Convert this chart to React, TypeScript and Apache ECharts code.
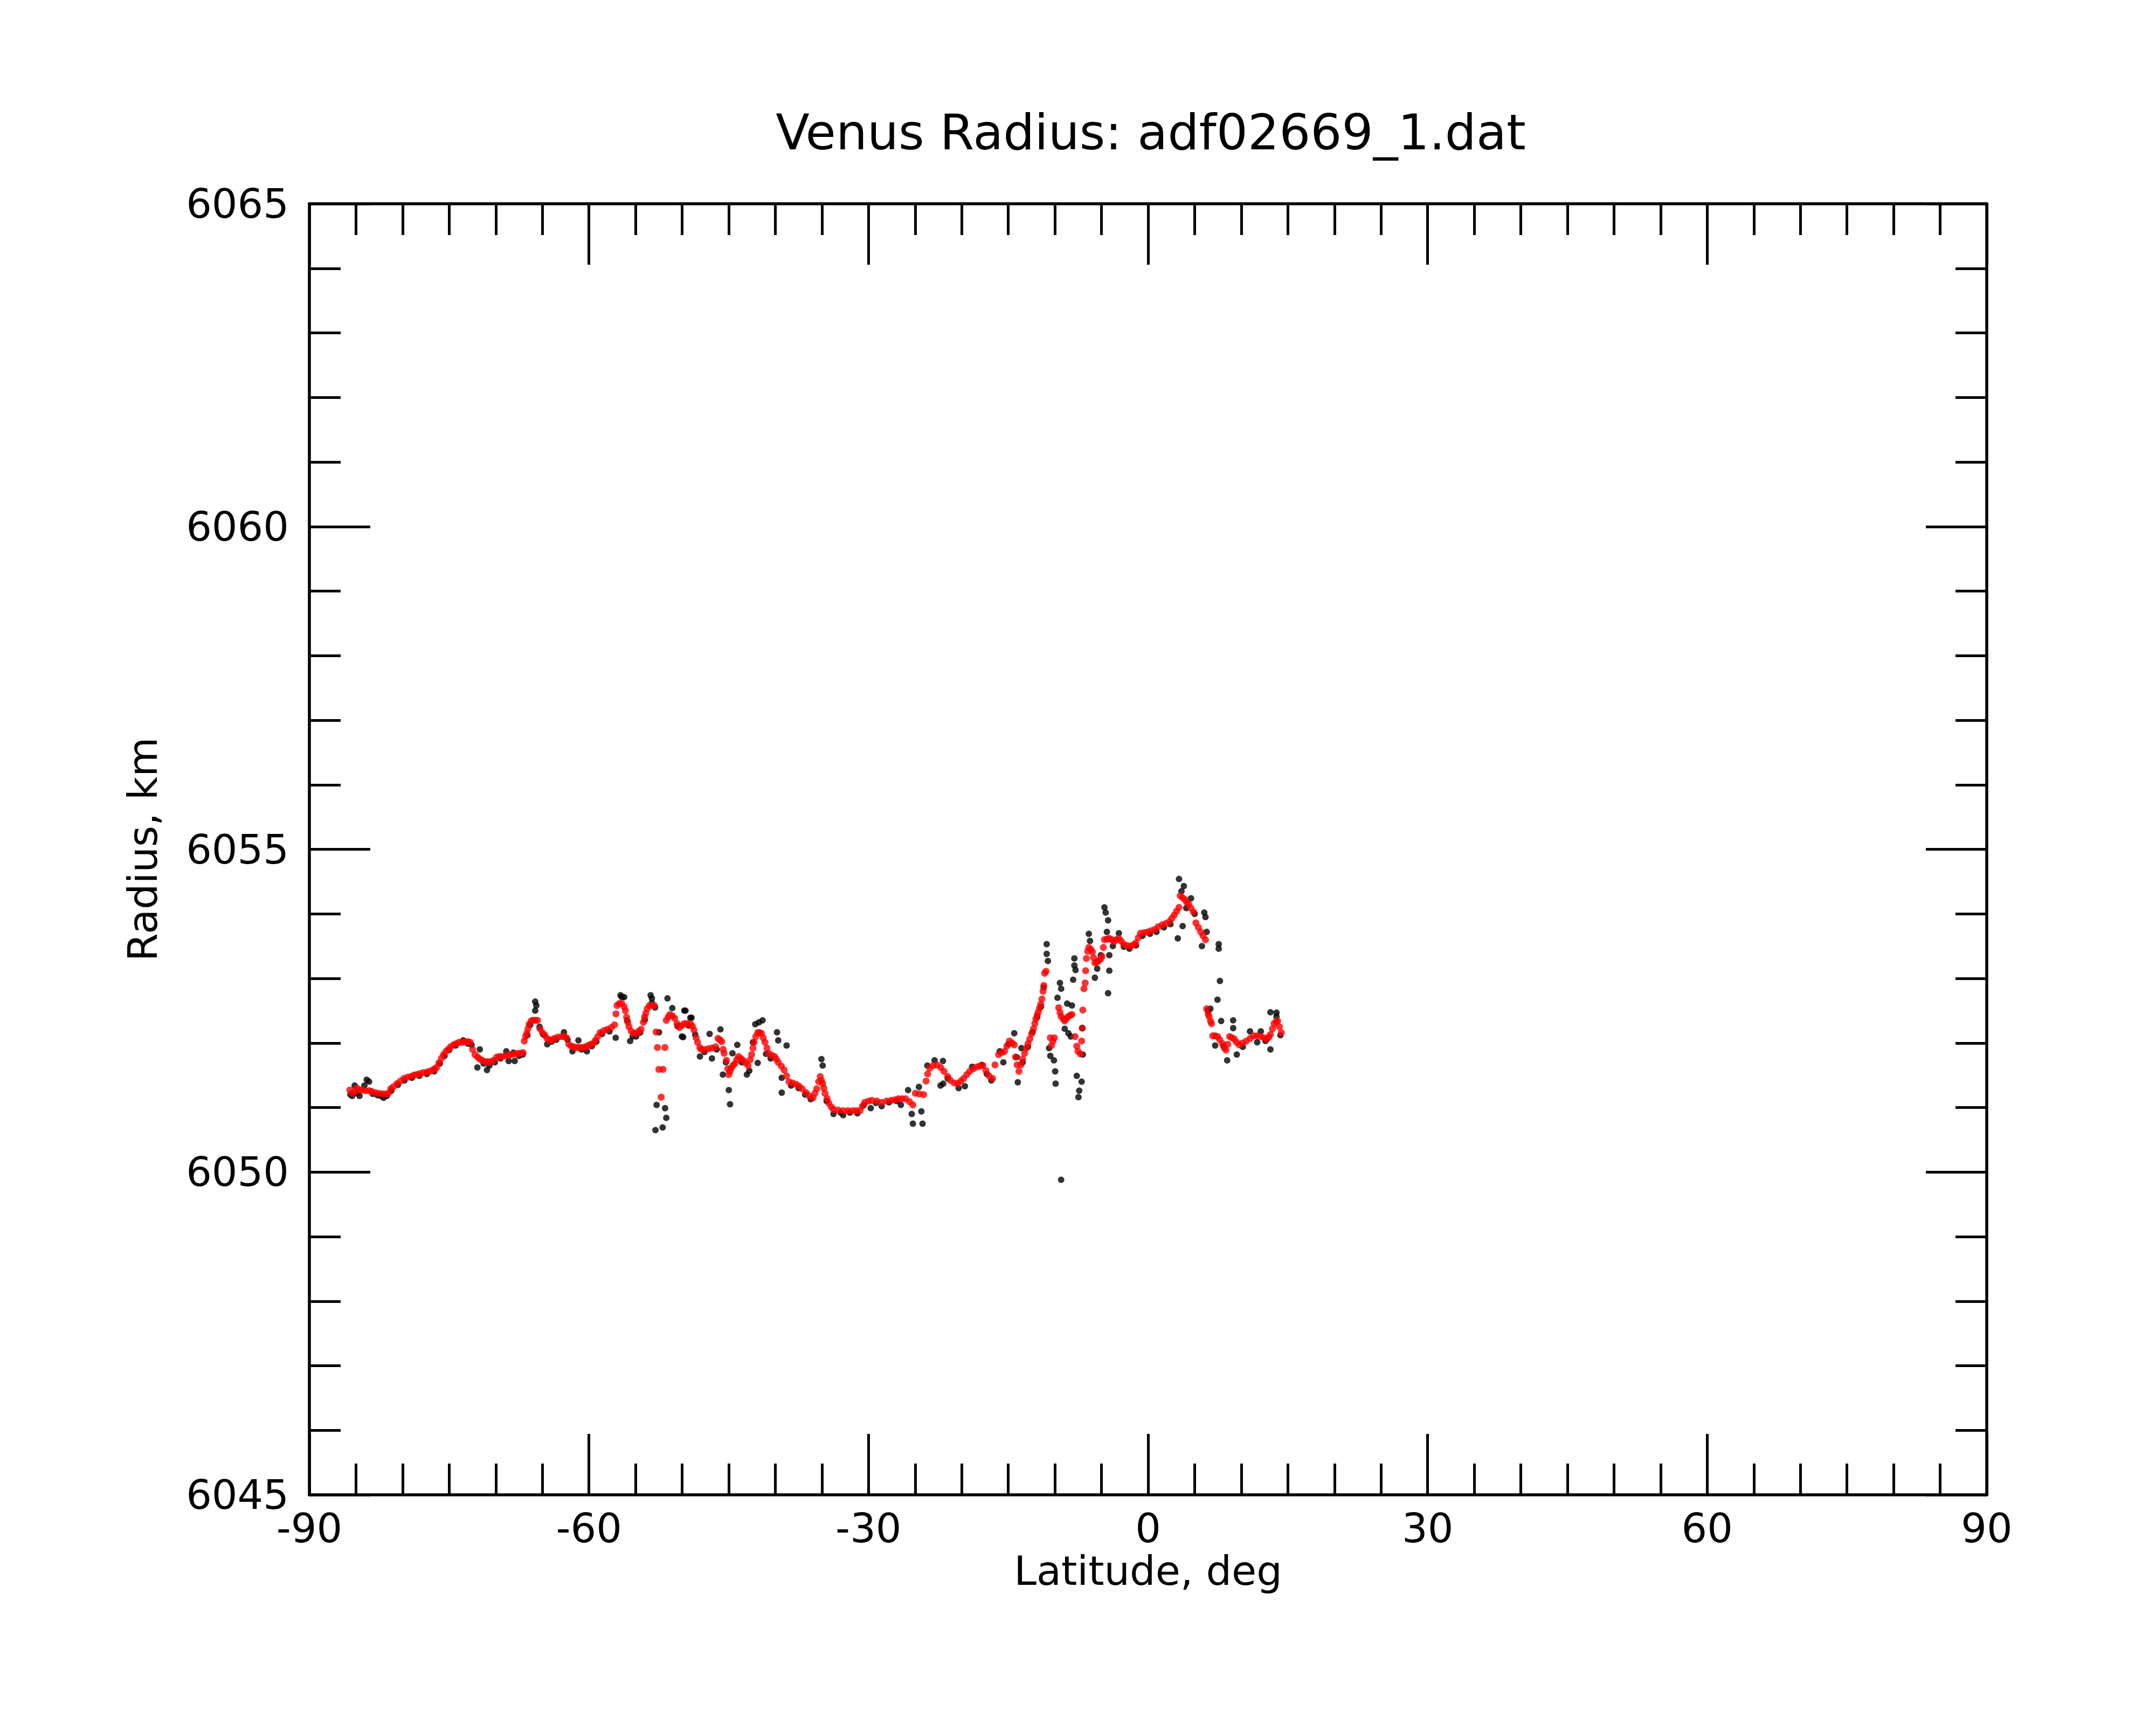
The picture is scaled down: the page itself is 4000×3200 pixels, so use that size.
import React, { useEffect, useRef } from "react";
import * as echarts from "echarts";

const chartTitle = "Venus Radius: adf02669_1.dat";
const xAxisTitle = "Latitude, deg";
const yAxisTitle = "Radius, km";
const latRange = [-90, 90];
const latStep = 30;
const radiusRange = [6045, 6065];
const radiusStep = 5;

// smoothed profile (red)
const smoothed: [number, number][] = [
  [-85.66, 6051.27], [-85.4, 6051.22], [-85.1, 6051.25], [-84.88, 6051.3], [-84.6, 6051.27],
  [-84.37, 6051.27], [-84.0, 6051.26], [-83.6, 6051.26], [-83.33, 6051.25], [-82.95, 6051.23],
  [-82.56, 6051.22], [-82.2, 6051.21], [-81.85, 6051.21], [-81.52, 6051.22], [-81.27, 6051.29],
  [-81.0, 6051.32], [-80.6, 6051.37], [-80.23, 6051.41], [-79.85, 6051.45], [-79.46, 6051.47],
  [-79.1, 6051.48], [-78.8, 6051.5], [-78.5, 6051.51], [-78.17, 6051.525], [-77.8, 6051.54],
  [-77.39, 6051.55], [-77.1, 6051.56], [-76.8, 6051.58], [-76.55, 6051.6], [-76.36, 6051.62],
  [-76.1, 6051.69], [-75.84, 6051.76], [-75.6, 6051.82], [-75.33, 6051.87], [-75.1, 6051.9],
  [-74.85, 6051.94], [-74.55, 6051.97], [-74.25, 6051.99], [-73.95, 6052.01], [-73.6, 6052.01],
  [-73.3, 6052.02], [-73.0, 6052.02], [-72.75, 6052.01], [-72.49, 6051.9], [-72.23, 6051.82],
  [-71.95, 6051.78], [-71.7, 6051.75], [-71.46, 6051.73], [-71.15, 6051.71], [-70.85, 6051.71],
  [-70.55, 6051.71], [-70.25, 6051.73], [-69.91, 6051.78], [-69.6, 6051.79], [-69.3, 6051.79],
  [-68.95, 6051.8], [-68.6, 6051.81], [-68.3, 6051.82], [-67.95, 6051.83], [-67.6, 6051.84],
  [-67.3, 6051.84], [-67.07, 6051.85], [-66.94, 6052.03], [-66.8, 6052.1], [-66.68, 6052.15],
  [-66.55, 6052.22], [-66.42, 6052.29], [-66.2, 6052.34], [-66.03, 6052.35], [-65.78, 6052.35],
  [-65.52, 6052.35], [-65.26, 6052.22], [-65.0, 6052.16], [-64.74, 6052.12], [-64.5, 6052.07],
  [-64.23, 6052.04], [-63.95, 6052.05], [-63.71, 6052.07], [-63.35, 6052.09], [-62.93, 6052.1],
  [-62.65, 6052.1], [-62.42, 6052.08], [-62.16, 6051.98], [-61.9, 6051.95], [-61.64, 6051.94],
  [-61.35, 6051.93], [-61.1, 6051.93], [-60.85, 6051.93], [-60.61, 6051.93], [-60.35, 6051.94],
  [-60.09, 6051.96], [-59.8, 6051.98], [-59.55, 6051.99], [-59.32, 6052.04], [-59.05, 6052.1],
  [-58.8, 6052.16], [-58.4, 6052.19], [-58.03, 6052.21], [-57.6, 6052.24], [-57.25, 6052.28],
  [-57.1, 6052.45], [-56.99, 6052.58], [-56.75, 6052.61], [-56.48, 6052.61], [-56.22, 6052.56],
  [-56.09, 6052.5], [-55.96, 6052.4], [-55.83, 6052.32], [-55.7, 6052.25], [-55.45, 6052.18],
  [-55.19, 6052.15], [-54.93, 6052.15], [-54.67, 6052.18], [-54.41, 6052.21], [-54.16, 6052.32],
  [-54.03, 6052.4], [-53.9, 6052.46], [-53.75, 6052.53], [-53.51, 6052.58], [-53.25, 6052.58],
  [-52.99, 6052.58], [-52.8, 6052.17], [-52.65, 6051.93], [-52.5, 6051.59], [-52.25, 6051.16],
  [-52.05, 6051.59], [-51.85, 6051.93], [-51.7, 6052.35], [-51.5, 6052.4], [-51.32, 6052.44],
  [-51.05, 6052.42], [-50.8, 6052.38], [-50.55, 6052.3], [-50.28, 6052.24], [-50.0, 6052.27],
  [-49.77, 6052.3], [-49.45, 6052.3], [-49.12, 6052.3], [-48.9, 6052.26], [-48.73, 6052.2],
  [-48.5, 6052.08], [-48.34, 6052.01], [-48.1, 6051.93], [-47.96, 6051.9], [-47.6, 6051.9],
  [-47.18, 6051.91], [-46.8, 6051.92], [-46.41, 6051.94], [-46.15, 6052.07], [-45.95, 6052.05],
  [-45.76, 6052.02], [-45.6, 6051.9], [-45.5, 6051.84], [-45.25, 6051.73], [-45.1, 6051.6],
  [-44.99, 6051.51], [-44.86, 6051.56], [-44.73, 6051.61], [-44.55, 6051.65], [-44.34, 6051.68],
  [-44.15, 6051.74], [-43.95, 6051.79], [-43.7, 6051.76], [-43.44, 6051.73], [-43.2, 6051.69],
  [-42.92, 6051.65], [-42.7, 6051.74], [-42.54, 6051.82], [-42.4, 6051.92], [-42.28, 6052.01],
  [-42.1, 6052.1], [-41.89, 6052.16], [-41.7, 6052.16], [-41.5, 6052.15], [-41.3, 6052.08],
  [-41.11, 6052.01], [-40.9, 6051.92], [-40.73, 6051.84], [-40.4, 6051.81], [-40.08, 6051.79],
  [-39.9, 6051.75], [-39.69, 6051.7], [-39.35, 6051.64], [-39.05, 6051.58], [-38.8, 6051.49],
  [-38.53, 6051.4], [-38.15, 6051.38], [-37.76, 6051.36], [-37.45, 6051.33], [-37.11, 6051.29],
  [-36.7, 6051.23], [-36.34, 6051.18], [-35.95, 6051.15], [-35.75, 6051.22], [-35.56, 6051.29],
  [-35.35, 6051.4], [-35.18, 6051.48], [-35.05, 6051.42], [-34.92, 6051.37], [-34.8, 6051.3],
  [-34.66, 6051.22], [-34.45, 6051.14], [-34.27, 6051.07], [-34.0, 6051.01], [-33.76, 6050.97],
  [-33.25, 6050.96], [-32.72, 6050.95], [-32.2, 6050.95], [-31.69, 6050.95], [-31.3, 6050.95],
  [-30.92, 6050.95], [-30.65, 6051.02], [-30.4, 6051.08], [-30.0, 6051.1], [-29.63, 6051.11],
  [-29.1, 6051.1], [-28.59, 6051.08], [-28.05, 6051.1], [-27.56, 6051.11], [-27.15, 6051.12],
  [-26.78, 6051.135], [-26.4, 6051.135], [-26.01, 6051.135], [-25.6, 6051.09], [-25.24, 6051.04],
  [-24.98, 6051.22], [-24.55, 6051.21], [-24.08, 6051.2], [-23.82, 6051.41], [-23.65, 6051.52],
  [-23.43, 6051.61], [-23.05, 6051.65], [-22.65, 6051.66], [-22.25, 6051.62], [-21.9, 6051.56],
  [-21.5, 6051.48], [-21.21, 6051.42], [-20.8, 6051.38], [-20.43, 6051.37], [-20.1, 6051.41],
  [-19.79, 6051.45], [-19.45, 6051.51], [-19.14, 6051.56], [-18.75, 6051.6], [-18.37, 6051.63],
  [-18.05, 6051.64], [-17.72, 6051.65], [-17.4, 6051.57], [-17.07, 6051.49], [-16.69, 6051.45],
  [-16.43, 6051.66], [-16.04, 6051.82], [-15.7, 6051.85], [-15.4, 6051.87], [-15.15, 6051.95],
  [-14.88, 6052.03], [-14.6, 6052.0], [-14.36, 6051.97], [-14.23, 6051.78], [-14.05, 6051.66],
  [-13.85, 6051.56], [-13.65, 6051.66], [-13.46, 6051.75], [-13.25, 6051.84], [-13.07, 6051.92],
  [-12.88, 6051.99], [-12.69, 6052.06], [-12.5, 6052.14], [-12.3, 6052.22], [-12.15, 6052.3],
  [-12.04, 6052.37], [-11.9, 6052.43], [-11.78, 6052.48], [-11.65, 6052.54], [-11.52, 6052.6],
  [-11.39, 6052.68], [-11.27, 6052.8], [-11.19, 6052.89], [-11.1, 6053.08], [-10.95, 6053.11],
  [-10.49, 6052.08], [-10.36, 6051.96], [-10.2, 6052.03], [-10.05, 6052.08], [-9.59, 6052.545],
  [-9.45, 6052.47], [-9.33, 6052.41], [-9.1, 6052.37], [-8.94, 6052.34], [-8.75, 6052.38],
  [-8.55, 6052.41], [-8.35, 6052.43], [-8.17, 6052.44], [-7.83, 6052.1], [-7.65, 6051.95],
  [-7.52, 6051.87], [-7.26, 6051.83], [-7.13, 6052.03], [-7.06, 6052.23], [-7.0, 6052.51],
  [-6.88, 6052.84], [-6.75, 6052.93], [-6.7, 6053.12], [-6.62, 6053.31], [-6.48, 6053.42],
  [-6.36, 6053.48], [-6.15, 6053.45], [-5.97, 6053.41], [-5.85, 6053.32], [-5.71, 6053.24],
  [-5.5, 6053.25], [-5.33, 6053.27], [-5.1, 6053.3], [-4.94, 6053.34], [-4.8, 6053.48],
  [-4.68, 6053.6], [-4.4, 6053.61], [-4.16, 6053.62], [-3.9, 6053.6], [-3.65, 6053.57],
  [-3.4, 6053.6], [-3.13, 6053.62], [-2.9, 6053.58], [-2.62, 6053.53], [-2.25, 6053.51],
  [-1.84, 6053.5], [-1.55, 6053.52], [-1.32, 6053.55], [-1.05, 6053.63], [-0.81, 6053.7],
  [-0.4, 6053.71], [-0.03, 6053.72], [0.35, 6053.74], [0.74, 6053.76], [1.1, 6053.8],
  [1.52, 6053.83], [1.9, 6053.85], [2.29, 6053.88], [2.55, 6053.93], [2.81, 6053.98],
  [3.05, 6054.04], [3.32, 6054.1], [3.45, 6054.28], [3.7, 6054.25], [3.97, 6054.22],
  [4.15, 6054.18], [4.36, 6054.15], [4.6, 6054.09], [4.87, 6054.03], [5.13, 6053.86],
  [5.4, 6053.79], [5.65, 6053.72], [5.9, 6053.66], [6.16, 6053.6], [6.29, 6052.53],
  [6.45, 6052.45], [6.55, 6052.41], [6.7, 6052.34], [6.81, 6052.3], [6.94, 6052.11],
  [7.2, 6052.11], [7.45, 6052.1], [7.7, 6052.05], [7.97, 6051.99], [8.2, 6051.92],
  [8.36, 6051.89], [8.55, 6051.98], [8.75, 6052.1], [9.0, 6052.08], [9.26, 6052.06],
  [9.5, 6052.01], [9.78, 6051.97], [10.15, 6052.0], [10.55, 6052.03], [10.95, 6052.07],
  [11.33, 6052.11], [11.7, 6052.11], [12.1, 6052.1], [12.45, 6052.08], [12.75, 6052.06],
  [12.95, 6052.09], [13.13, 6052.13], [13.35, 6052.22], [13.52, 6052.3], [13.75, 6052.33],
  [13.91, 6052.34], [14.1, 6052.25], [14.3, 6052.16],
];

// raw measurements (black)
const raw: [number, number][] = [
  [-85.6, 6051.2], [-85.4, 6051.18], [-85.14, 6051.34], [-84.9, 6051.22], [-84.62, 6051.18],
  [-84.1, 6051.34], [-83.85, 6051.43], [-83.59, 6051.4], [-83.2, 6051.21], [-82.7, 6051.19],
  [-82.3, 6051.18], [-82.04, 6051.15], [-81.7, 6051.18], [-81.2, 6051.26], [-80.5, 6051.35],
  [-79.8, 6051.42], [-79.0, 6051.46], [-78.2, 6051.49], [-77.4, 6051.52], [-76.6, 6051.56],
  [-76.0, 6051.68], [-75.5, 6051.8], [-75.0, 6051.89], [-74.3, 6051.96], [-73.5, 6052.04],
  [-73.0, 6051.99], [-72.6, 6051.97], [-71.97, 6051.62], [-71.71, 6051.9], [-71.3, 6051.68],
  [-70.94, 6051.58], [-70.68, 6051.65], [-70.1, 6051.7], [-69.5, 6051.76], [-68.87, 6051.87],
  [-68.61, 6051.72], [-68.1, 6051.85], [-67.97, 6051.72], [-67.5, 6051.8], [-67.1, 6051.82],
  [-66.6, 6052.12], [-66.3, 6052.28], [-65.77, 6052.64], [-65.77, 6052.5], [-65.65, 6052.58],
  [-65.3, 6052.25], [-64.9, 6052.13], [-64.48, 6051.98], [-64.0, 6052.02], [-63.5, 6052.05],
  [-62.68, 6052.165], [-62.3, 6052.05], [-61.77, 6051.87], [-61.13, 6052.04], [-60.8, 6051.9],
  [-60.22, 6051.87], [-59.7, 6051.95], [-59.2, 6052.02], [-58.6, 6052.14], [-57.8, 6052.18],
  [-57.13, 6052.08], [-56.61, 6052.74], [-56.48, 6052.71], [-56.22, 6052.71], [-55.9, 6052.35],
  [-55.58, 6052.03], [-55.3, 6052.1], [-54.93, 6052.1], [-54.5, 6052.16], [-54.0, 6052.36],
  [-53.38, 6052.74], [-53.25, 6052.62], [-53.25, 6052.69], [-52.9, 6052.55], [-52.48, 6052.165],
  [-52.74, 6051.04], [-51.83, 6050.99], [-51.7, 6050.84], [-52.86, 6050.65], [-52.09, 6050.69],
  [-51.57, 6052.69], [-51.06, 6052.54], [-50.5, 6052.26], [-50.03, 6052.1], [-49.89, 6052.09],
  [-49.77, 6052.5], [-49.64, 6052.5], [-49.3, 6052.27], [-49.12, 6052.39], [-48.99, 6052.39],
  [-48.6, 6052.13], [-48.09, 6051.79], [-47.6, 6051.86], [-47.05, 6052.14], [-46.8, 6051.76],
  [-46.3, 6051.9], [-45.89, 6052.21], [-45.63, 6051.51], [-45.3, 6051.7], [-44.99, 6051.27],
  [-44.86, 6051.05], [-44.6, 6051.84], [-44.08, 6051.97], [-43.6, 6051.7], [-43.05, 6051.51],
  [-42.79, 6051.57], [-42.41, 6052.01], [-42.15, 6052.29], [-41.89, 6051.69], [-41.76, 6052.32],
  [-41.37, 6052.35], [-40.99, 6051.83], [-40.5, 6051.76], [-39.82, 6052.165], [-39.69, 6052.04],
  [-39.31, 6051.46], [-39.31, 6051.23], [-38.79, 6051.96], [-38.3, 6051.34], [-37.5, 6051.3],
  [-36.8, 6051.2], [-36.2, 6051.13], [-35.05, 6051.75], [-34.92, 6051.65], [-34.5, 6051.1],
  [-33.76, 6050.9], [-33.0, 6050.92], [-32.72, 6050.88], [-32.0, 6050.92], [-31.2, 6050.91],
  [-30.5, 6051.04], [-29.76, 6050.99], [-29.2, 6051.07], [-28.59, 6051.02], [-27.8, 6051.08],
  [-27.0, 6051.1], [-26.53, 6051.04], [-25.75, 6051.27], [-25.36, 6050.9], [-25.24, 6050.75],
  [-24.59, 6051.32], [-24.33, 6050.94], [-24.2, 6050.75], [-23.69, 6051.65], [-22.91, 6051.73],
  [-22.27, 6051.34], [-22.01, 6051.72], [-21.98, 6051.37], [-21.5, 6051.45], [-20.33, 6051.3],
  [-19.66, 6051.33], [-18.88, 6051.63], [-17.85, 6051.66], [-17.3, 6051.52], [-16.82, 6051.42],
  [-15.91, 6051.87], [-15.53, 6051.7], [-15.0, 6051.98], [-14.36, 6052.15], [-14.1, 6051.78],
  [-13.98, 6051.39], [-13.59, 6051.92], [-13.46, 6051.7], [-12.9, 6051.94], [-12.4, 6052.17],
  [-11.9, 6052.4], [-11.5, 6052.56], [-11.2, 6052.86], [-10.88, 6053.53], [-10.88, 6053.38],
  [-10.75, 6053.27], [-10.62, 6051.92], [-10.49, 6051.8], [-10.1, 6051.73], [-9.97, 6051.56],
  [-9.92, 6051.37], [-9.33, 6049.88], [-9.72, 6052.7], [-9.46, 6052.93], [-9.33, 6052.84],
  [-8.94, 6052.22], [-8.68, 6052.61], [-8.55, 6052.15], [-8.29, 6052.1], [-8.17, 6052.58],
  [-8.04, 6052.98], [-7.91, 6053.31], [-7.91, 6053.2], [-7.78, 6053.13], [-7.65, 6051.49],
  [-7.47, 6051.16], [-7.39, 6051.26], [-7.13, 6051.4], [-7.0, 6051.82], [-7.06, 6052.23],
  [-6.36, 6053.69], [-6.23, 6053.58], [-5.71, 6053.01], [-5.46, 6053.15], [-5.07, 6053.36],
  [-4.68, 6054.1], [-4.55, 6054.02], [-4.42, 6053.72], [-4.29, 6053.9], [-4.29, 6052.77],
  [-4.16, 6053.36], [-4.16, 6053.12], [-3.78, 6053.5], [-3.13, 6053.7], [-2.6, 6053.49],
  [-2.0, 6053.46], [-1.3, 6053.51], [-0.6, 6053.66], [0.2, 6053.69], [0.9, 6053.72],
  [1.7, 6053.79], [2.4, 6053.84], [3.19, 6053.62], [3.32, 6054.54], [3.58, 6054.35],
  [3.71, 6053.81], [3.84, 6054.43], [4.1, 6054.09], [4.61, 6054.24], [5.0, 6054.0],
  [5.78, 6053.5], [6.03, 6054.02], [6.16, 6053.95], [6.29, 6053.72], [6.4, 6052.5],
  [6.68, 6052.53], [7.2, 6051.96], [7.45, 6052.67], [7.58, 6053.53], [7.58, 6053.46],
  [7.71, 6052.96], [7.84, 6052.34], [8.1, 6051.95], [8.49, 6051.73], [9.13, 6052.35],
  [9.13, 6052.23], [9.52, 6051.82], [10.16, 6051.94], [10.94, 6052.18], [11.71, 6052.01],
  [12.1, 6052.18], [12.6, 6052.03], [13.13, 6052.475], [13.13, 6051.9], [13.78, 6052.41],
  [13.78, 6052.47], [14.2, 6052.12],
];

const FONT = "DejaVu Sans";

function axisCommon(showLabels: boolean) {
  return {
    axisLine: { show: true, onZero: false, lineStyle: { color: "#000", width: 5.5 } },
    axisTick: { show: true, inside: true, length: 113, lineStyle: { color: "#000", width: 5 } },
    minorTick: { show: true, length: 58, lineStyle: { color: "#000", width: 5 } },
    splitLine: { show: false },
    minorSplitLine: { show: false },
    axisLabel: showLabels
      ? { show: true, color: "#000", fontSize: 75, fontFamily: FONT, formatter: (v: number) => String(v) }
      : { show: false },
  };
}

export default function App() {
  const ref = useRef<HTMLDivElement>(null);
  useEffect(() => {
    document.body.style.margin = "0";
    if (!ref.current) return;
    const chart = echarts.init(ref.current, undefined, { renderer: "svg" });
    const c1 = axisCommon(true);
    const c2 = axisCommon(false);
    chart.setOption({
      animation: false,
      backgroundColor: "#fff",
      title: {
        text: chartTitle,
        left: 2130,
        top: 194,
        textAlign: "center",
        textStyle: { fontFamily: FONT, fontSize: 91.5, fontWeight: "normal", color: "#000" },
      },
      grid: { left: 574, right: 314, top: 378, bottom: 427, containLabel: false },
      xAxis: [
        {
          type: "value",
          position: "bottom",
          min: latRange[0],
          max: latRange[1],
          interval: latStep,
          ...c1,
          minorTick: { ...c1.minorTick, splitNumber: 6 },
          axisLabel: { ...c1.axisLabel, margin: 24 },
          name: xAxisTitle,
          nameLocation: "middle",
          nameGap: 90,
          nameTextStyle: { fontFamily: FONT, fontSize: 75, color: "#000" },
        },
        {
          type: "value",
          position: "top",
          min: latRange[0],
          max: latRange[1],
          interval: latStep,
          ...c2,
          minorTick: { ...c2.minorTick, splitNumber: 6 },
        },
      ],
      yAxis: [
        {
          type: "value",
          position: "left",
          min: radiusRange[0],
          max: radiusRange[1],
          interval: radiusStep,
          ...c1,
          minorTick: { ...c1.minorTick, splitNumber: 5 },
          axisLabel: { ...c1.axisLabel, margin: 38 },
          name: yAxisTitle,
          nameLocation: "middle",
          nameGap: 272,
          nameTextStyle: { fontFamily: FONT, fontSize: 75, color: "#000" },
        },
        {
          type: "value",
          position: "right",
          min: radiusRange[0],
          max: radiusRange[1],
          interval: radiusStep,
          ...c2,
          minorTick: { ...c2.minorTick, splitNumber: 5 },
        },
      ],
      series: [
        {
          name: "raw",
          type: "scatter",
          data: raw,
          symbol: "circle",
          symbolSize: 12,
          itemStyle: { color: "#000" },
          silent: true,
        },
        {
          name: "smoothed",
          type: "scatter",
          data: smoothed,
          symbol: "circle",
          symbolSize: 13,
          itemStyle: { color: "#ff0000" },
          silent: true,
        },
      ],
    });
    return () => chart.dispose();
  }, []);
  return <div ref={ref} style={{ width: 4000, height: 3200 }} />;
}
